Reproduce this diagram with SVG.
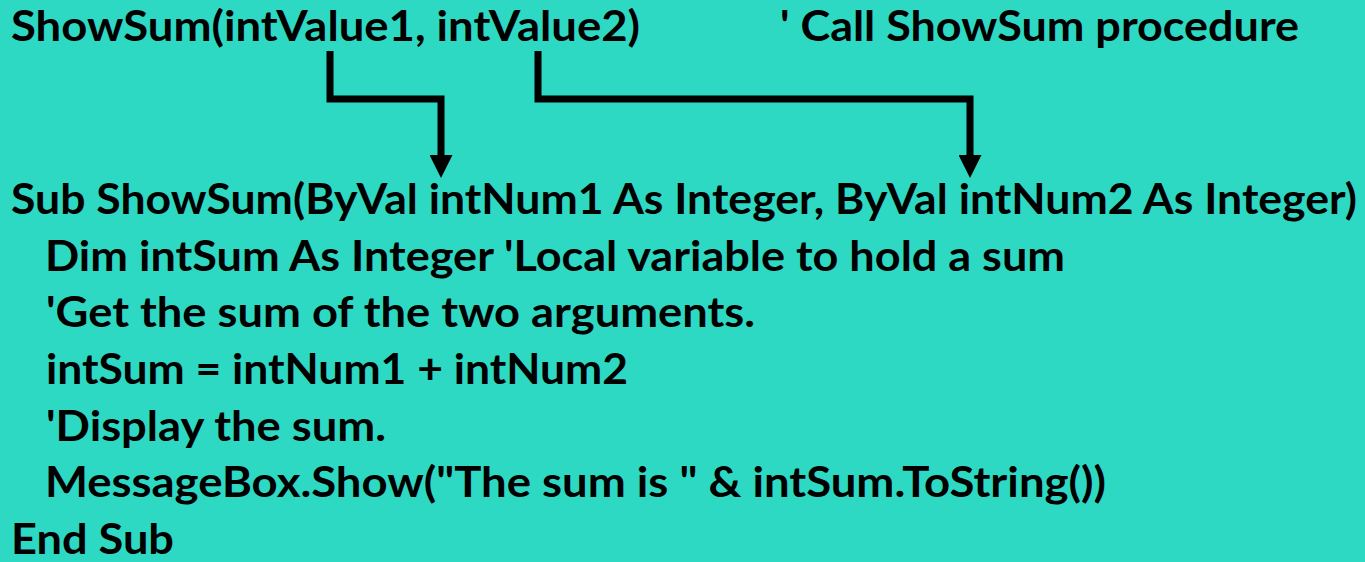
<svg xmlns="http://www.w3.org/2000/svg" width="1365" height="562" viewBox="0 0 1365 562">
<defs>
<style>
.t{font-family:Lato,"Open Sans","Liberation Sans",sans-serif;font-weight:700;font-size:42px;fill:#000}
.c{fill:none;stroke:#000;stroke-width:7;stroke-linejoin:miter;stroke-linecap:butt}
</style>
<marker id="ah" viewBox="0 0 23 23" refX="0" refY="11.5" markerWidth="23" markerHeight="23" markerUnits="userSpaceOnUse" orient="auto">
<path d="M0,0 L23,11.5 L0,23 Z" fill="#000"/>
</marker>
</defs>
<rect width="1365" height="562" fill="#2ED9C3"/>
<g id="call">
<text class="t" x="11" y="41" textLength="629" lengthAdjust="spacingAndGlyphs">ShowSum(intValue1, intValue2)</text>
<text class="t" x="780" y="41" textLength="519" lengthAdjust="spacingAndGlyphs">' Call ShowSum procedure</text>
</g>
<g id="connectors">
<path class="c" d="M330,51 V99 H441 V155" marker-end="url(#ah)"/>
<path class="c" d="M538,51 V99 H970 V155" marker-end="url(#ah)"/>
</g>
<g id="sub">
<text class="t" x="11" y="214" textLength="1346" lengthAdjust="spacingAndGlyphs">Sub ShowSum(ByVal intNum1 As Integer, ByVal intNum2 As Integer)</text>
<text class="t" x="45" y="271" textLength="1020" lengthAdjust="spacingAndGlyphs">Dim intSum As Integer 'Local variable to hold a sum</text>
<text class="t" x="46" y="327" textLength="709" lengthAdjust="spacingAndGlyphs">'Get the sum of the two arguments.</text>
<text class="t" x="46" y="384" textLength="582" lengthAdjust="spacingAndGlyphs">intSum = intNum1 + intNum2</text>
<text class="t" x="46" y="441" textLength="340" lengthAdjust="spacingAndGlyphs">'Display the sum.</text>
<text class="t" x="45" y="497" textLength="1061" lengthAdjust="spacingAndGlyphs">MessageBox.Show("The sum is " &amp; intSum.ToString())</text>
<text class="t" x="11" y="554" textLength="163" lengthAdjust="spacingAndGlyphs">End Sub</text>
</g>
</svg>
